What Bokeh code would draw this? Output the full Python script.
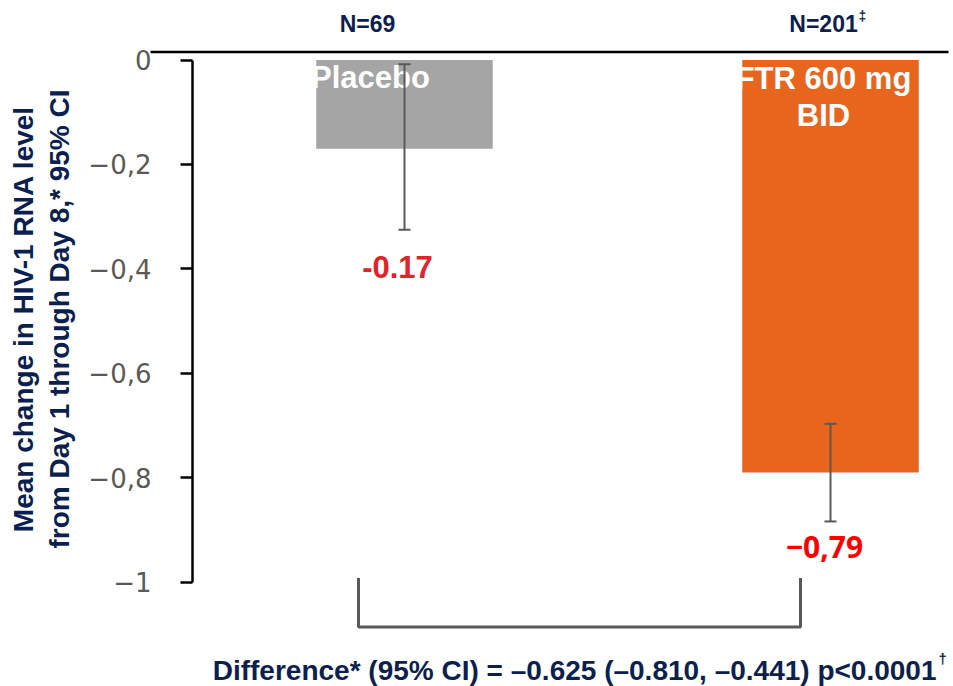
import numpy as np
from bokeh.plotting import figure
from bokeh.models import Range1d, LinearAxis, FixedTicker, Whisker, TeeHead, ColumnDataSource
from bokeh.core.properties import value
from bokeh.embed import file_html
from bokeh.resources import INLINE

# ---------------- data ----------------
categories = ["Placebo", "FTR 600 mg\nBID"]
n_labels = ["N=69", "N=201"]
n_marks = ["", "‡"]
means = [-0.17, -0.79]
ci_lower = [-0.325, -0.884]
ci_upper = [-0.008, -0.697]
value_labels = ["-0.17", "−0,79"]
bar_colors = ["#a5a5a5", "#e8651e"]
yticks = [0, -0.2, -0.4, -0.6, -0.8, -1]
ytick_labels = ["0", "−0,2", "−0,4", "−0,6", "−0,8", "−1"]
axis_title = "Mean change in HIV-1 RNA level\nfrom Day 1 through Day 8,* 95% CI"
difference_text = "Difference* (95% CI) = –0.625 (–0.810, –0.441) p<0.0001"
difference_mark = "†"

xpos = [1, 2]

NAVY = "#0c1f4f"
GREY = "#595959"
ARIAL = value("Liberation Sans")

W, H = 953, 686
px_x = 426.0   # pixels per x unit
px_y = 522.0   # pixels per y unit
x0 = 1 - 404 / px_x
y1 = 59.5 / px_y

p = figure(width=W, height=H,
           x_range=Range1d(x0, x0 + W / px_x),
           y_range=Range1d(y1 - H / px_y, y1),
           x_axis_location=None, y_axis_location=None,
           toolbar_location=None, output_backend="svg",
           min_border=0, outline_line_color=None)
p.grid.visible = False
p.background_fill_color = "white"
p.border_fill_color = "white"

axis_x = 1 - (404 - 192) / px_x

# bars
src = ColumnDataSource(dict(x=xpos, mean=means, lower=ci_lower, upper=ci_upper,
                            color=bar_colors))
p.vbar(x="x", top=0, bottom="mean", width=176.5 / px_x, fill_color="color",
       line_color=None, source=src)

# error bars (drawn above the bars)
p.add_layout(Whisker(source=src, base="x", upper="upper", lower="lower",
                     level="annotation", line_color=GREY, line_width=2,
                     upper_head=TeeHead(size=12, line_color=GREY, line_width=2),
                     lower_head=TeeHead(size=12, line_color=GREY, line_width=2)))

# y axis
yaxis = LinearAxis(fixed_location=axis_x, bounds=(-1, 0),
                   ticker=FixedTicker(ticks=yticks),
                   major_label_overrides=dict(zip(yticks, ytick_labels)))
yaxis.axis_line_color = "black"
yaxis.axis_line_width = 2.5
yaxis.major_tick_line_color = "black"
yaxis.major_tick_line_width = 2.5
yaxis.major_tick_out = 12
yaxis.major_tick_in = 0
yaxis.minor_tick_line_color = None
yaxis.major_label_text_font = "DejaVu Sans"
yaxis.major_label_text_font_size = "26px"
yaxis.major_label_text_color = GREY
yaxis.major_label_standoff = 29
p.add_layout(yaxis, "left")

# top zero line (sits just above the zero level)
top_y = 8 / px_y
p.segment(x0=[axis_x - 42 / px_x], y0=[top_y], x1=[axis_x + 756 / px_x], y1=[top_y],
          line_color="black", line_width=2.5)

# axis title
p.text(x=[axis_x], y=[-0.5], text=[axis_title], angle=np.pi / 2,
       x_offset=-151, y_offset=-2, text_align="center", text_baseline="middle",
       text_font=ARIAL, text_font_style="bold", text_font_size="28px",
       text_color=NAVY, text_line_height=1.18)

# labels inside bars
p.text(x=[xpos[0]], y=[0], text=[categories[0]], x_offset=-34, y_offset=0,
       text_align="center", text_baseline="top", text_font=ARIAL,
       text_font_style="bold", text_font_size="31px", text_color="white")
p.text(x=[xpos[1]], y=[0], text=[categories[1]], x_offset=-7, y_offset=1,
       text_align="center", text_baseline="top", text_font=ARIAL,
       text_font_style="bold", text_font_size="31px", text_color="white",
       text_line_height=1.06)

# N labels
p.text(x=[xpos[0]], y=[0], text=[n_labels[0]], x_offset=-37, y_offset=-36,
       text_align="center", text_baseline="alphabetic", text_font=ARIAL,
       text_font_style="bold", text_font_size="23px", text_color=NAVY)
p.text(x=[xpos[1]], y=[0], text=[n_labels[1]], x_offset=-7, y_offset=-36,
       text_align="center", text_baseline="alphabetic", text_font=ARIAL,
       text_font_style="bold", text_font_size="23px", text_color=NAVY)
p.text(x=[xpos[1]], y=[0], text=[n_marks[1]], x_offset=28, y_offset=-44,
       text_align="left", text_baseline="alphabetic", text_font=ARIAL,
       text_font_style="bold", text_font_size="14px", text_color=NAVY)

# value labels
p.text(x=[xpos[0]], y=[ci_lower[0]], text=[value_labels[0]], x_offset=-7, y_offset=37,
       text_align="center", text_baseline="alphabetic", text_font=ARIAL,
       text_font_style="bold", text_font_size="31px", text_color="#e0242b")
p.text(x=[xpos[1]], y=[ci_lower[1]], text=[value_labels[1]], x_offset=-6, y_offset=26,
       text_align="center", text_baseline="alphabetic", text_font=value("Open Sans"),
       text_font_style="bold", text_font_size="30px", text_color="#ff0000")

# bracket between the groups
bl = xpos[0] - 46 / px_x
br = xpos[1] - 30 / px_x
bt = -1 + 4 / px_y
bb = -1 - 45 / px_y
p.line(x=[bl, bl, br, br], y=[bt, bb, bb, bt], line_color=GREY, line_width=3)

# difference text
p.text(x=[axis_x], y=[-1], text=[difference_text], x_offset=744, y_offset=88,
       text_align="right", text_baseline="alphabetic", text_font=ARIAL,
       text_font_style="bold", text_font_size="28px", text_color=NAVY)
p.text(x=[axis_x], y=[-1], text=[difference_mark], x_offset=746, y_offset=76,
       text_align="left", text_baseline="alphabetic", text_font=ARIAL,
       text_font_style="bold", text_font_size="15px", text_color=NAVY)

open("out.html", "w").write(file_html(p, INLINE))
